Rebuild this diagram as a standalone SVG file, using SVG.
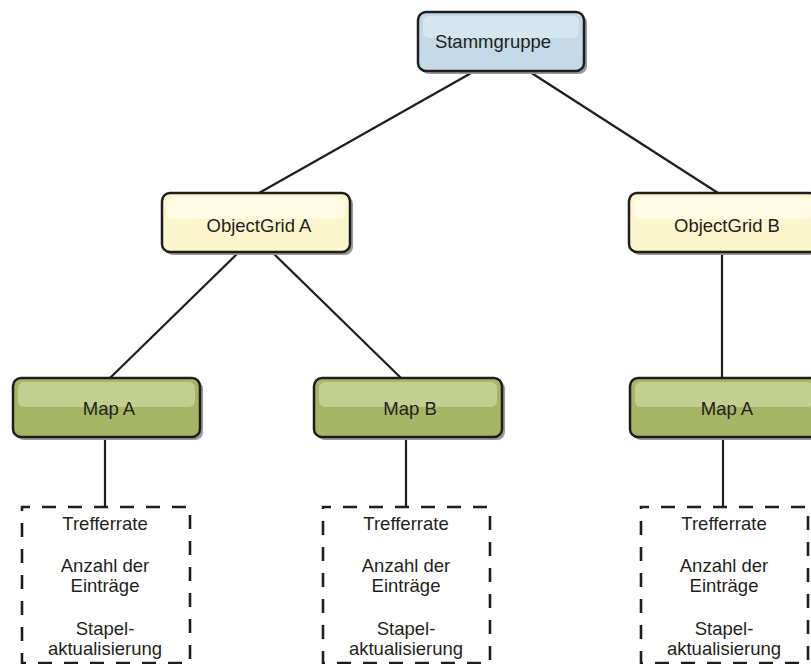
<svg xmlns="http://www.w3.org/2000/svg" width="811" height="664" viewBox="0 0 811 664">
<defs>
<style>
.shadow{fill:#9a9a9a;}
.box{stroke:#1e1e1e;stroke-width:2.5;}
.root{fill:#c3d9e5;}
.rooth{fill:#d6e6ee;}
.og{fill:#fcf6cf;}
.ogh{fill:#fefbe6;}
.map{fill:#a6b664;}
.maph{fill:#c3cf91;}
.lbl{font-family:"Liberation Sans",Arial,sans-serif;font-size:18.5px;fill:#231f20;text-anchor:middle;}
.conn{stroke:#1e1e1e;stroke-width:2.2;fill:none;}
.dash{fill:#fff;stroke:#1e1e1e;stroke-width:2.6;stroke-dasharray:14 12;stroke-dashoffset:6;}
</style>
</defs>
<rect width="811" height="664" fill="#fff"/>
<g id="connectors">
<line class="conn" x1="473" y1="72" x2="259" y2="193"/>
<line class="conn" x1="530" y1="72" x2="718" y2="193"/>
<line class="conn" x1="238" y1="253" x2="110" y2="378"/>
<line class="conn" x1="273" y1="253" x2="401" y2="378"/>
<line class="conn" x1="722" y1="253" x2="722" y2="378"/>
<line class="conn" x1="105" y1="437" x2="105" y2="507"/>
<line class="conn" x1="406" y1="437" x2="406" y2="507"/>
<line class="conn" x1="723" y1="437" x2="723" y2="507"/>
</g>
<g id="stammgruppe">
<rect class="shadow" x="421" y="15" width="166" height="59" rx="8"/>
<rect class="box root" x="418" y="12" width="166" height="59" rx="8"/>
<rect class="rooth" x="423" y="16" width="156" height="22" rx="6"/>
<text class="lbl" x="493" y="48">Stammgruppe</text>
</g>
<g id="objectgrid-a">
<rect class="shadow" x="165" y="196" width="188" height="59" rx="8"/>
<rect class="box og" x="162" y="193" width="188" height="59" rx="8"/>
<rect class="ogh" x="167" y="197" width="178" height="22" rx="6"/>
<text class="lbl" x="259" y="232">ObjectGrid A</text>
</g>
<g id="objectgrid-b">
<rect class="shadow" x="632" y="196" width="188" height="59" rx="8"/>
<rect class="box og" x="629" y="193" width="188" height="59" rx="8"/>
<rect class="ogh" x="634" y="197" width="178" height="22" rx="6"/>
<text class="lbl" x="727" y="232">ObjectGrid B</text>
</g>
<g id="map-a-1">
<rect class="shadow" x="16" y="381" width="187" height="59" rx="8"/>
<rect class="box map" x="13" y="378" width="187" height="59" rx="8"/>
<rect class="maph" x="18" y="382" width="177" height="25" rx="6"/>
<text class="lbl" x="109" y="415">Map A</text>
</g>
<g id="map-b">
<rect class="shadow" x="317" y="381" width="188" height="59" rx="8"/>
<rect class="box map" x="314" y="378" width="188" height="59" rx="8"/>
<rect class="maph" x="319" y="382" width="178" height="25" rx="6"/>
<text class="lbl" x="410" y="415">Map B</text>
</g>
<g id="map-a-2">
<rect class="shadow" x="633" y="381" width="188" height="59" rx="8"/>
<rect class="box map" x="630" y="378" width="188" height="59" rx="8"/>
<rect class="maph" x="635" y="382" width="178" height="25" rx="6"/>
<text class="lbl" x="727" y="415">Map A</text>
</g>
<g id="stats-1">
<rect class="dash" x="22" y="507" width="168" height="156"/>
<text class="lbl" x="105" y="530">Trefferrate</text>
<text class="lbl" x="105" y="572">Anzahl der</text>
<text class="lbl" x="105" y="592">Einträge</text>
<text class="lbl" x="105" y="635">Stapel-</text>
<text class="lbl" x="105" y="655">aktualisierung</text>
</g>
<g id="stats-2">
<rect class="dash" x="323" y="507" width="167" height="156"/>
<text class="lbl" x="406" y="530">Trefferrate</text>
<text class="lbl" x="406" y="572">Anzahl der</text>
<text class="lbl" x="406" y="592">Einträge</text>
<text class="lbl" x="406" y="635">Stapel-</text>
<text class="lbl" x="406" y="655">aktualisierung</text>
</g>
<g id="stats-3">
<rect class="dash" x="641" y="507" width="167" height="156"/>
<text class="lbl" x="724" y="530">Trefferrate</text>
<text class="lbl" x="724" y="572">Anzahl der</text>
<text class="lbl" x="724" y="592">Einträge</text>
<text class="lbl" x="724" y="635">Stapel-</text>
<text class="lbl" x="724" y="655">aktualisierung</text>
</g>
</svg>
